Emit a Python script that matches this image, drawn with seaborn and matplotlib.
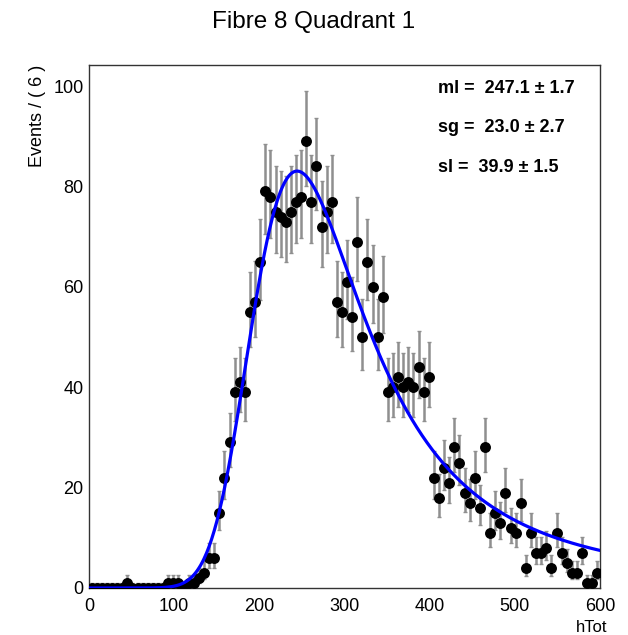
import numpy as np
import pandas as pd
import seaborn as sns
import matplotlib
matplotlib.use("Agg")
import matplotlib.pyplot as plt
from matplotlib.ticker import MultipleLocator

# binned data, 100 bins of width 6 over 0-600
bin_centers = np.arange(3, 600, 6)
counts = [
    0, 0, 0, 0, 0, 0, 0, 1, 0, 0, 0, 0, 0, 0, 0, 1, 1, 1,
    0, 1, 1, 2, 3, 6, 6, 15, 22, 29, 39, 41, 39, 55, 57, 65, 79,
    78, 75, 74, 73, 75, 77, 78, 89, 77, 84, 72, 75, 77,
    57, 55, 61, 54, 69, 50, 65, 60, 50, 58, 39, 40, 42, 40, 41, 40, 44, 39, 42,
    22, 18, 24, 21, 28, 25, 19, 17, 22, 16, 28, 11, 15, 13, 19, 12, 11, 17,
    4, 11, 7, 7, 8, 4, 11, 7, 5, 3, 3, 7, 1, 1, 3,
]

# fit result (landau x gauss)
par_names = ["ml", "sg", "sl"]
par_values = [247.1, 23.0, 39.9]
par_errors = [1.7, 2.7, 1.5]

df = pd.DataFrame({"x": bin_centers, "n": counts})
# approx poisson intervals like RooFit
df["lo"] = np.sqrt(df["n"] + 0.25) - 0.5
df["hi"] = np.sqrt(df["n"] + 0.25) + 0.5


def landau_std(lam):
    # inverse laplace form, integrated along the line through the saddle point
    y = np.linspace(0, 60, 12001)
    out = np.zeros(len(lam))
    for i, l in enumerate(lam):
        if l < -5:
            continue
        s = np.exp(-1 - l) + 1j * y
        f = s * np.log(s) + l * s
        out[i] = np.trapezoid(np.exp(f).real, y) / np.pi
    return out


ml, sg, sl = par_values
xs = np.arange(-150, 851, 1.0)
pdf = landau_std((xs - ml) / sl) / sl
u = np.arange(-150, 151, 1.0)
kern = np.exp(-0.5 * (u / sg) ** 2)
kern /= kern.sum()
conv = np.convolve(pdf, kern, mode="same")
m = (xs >= 0) & (xs <= 600)
area = np.trapezoid(conv[m], xs[m])
curve = pd.DataFrame({"x": xs[m], "y": conv[m] * df["n"].sum() * 6 / area})

sns.set_style("white")
plt.rcParams["font.family"] = ["Liberation Sans", "DejaVu Sans"]
plt.rcParams["text.color"] = "black"
plt.rcParams["xtick.color"] = "black"
plt.rcParams["ytick.color"] = "black"

fig = plt.figure(figsize=(6.28, 6.35), dpi=100)
ax = fig.add_axes([89 / 628, 1 - 588 / 635, 511 / 628, 523 / 635])

ax.errorbar(df["x"], df["n"], yerr=[df["lo"], df["hi"]], fmt="none",
            ecolor="#8f8f8f", elinewidth=1.8, capsize=1.5, capthick=1, zorder=2)
sns.scatterplot(data=df, x="x", y="n", color="black", s=62, linewidth=0,
                zorder=3, ax=ax)
sns.lineplot(data=curve, x="x", y="y", color="#0000ff", lw=2.3, zorder=4, ax=ax)

ax.set_xlim(0, 600)
ax.set_ylim(0, 104.2)
ax.xaxis.set_major_locator(MultipleLocator(100))
ax.xaxis.set_minor_locator(MultipleLocator(20))
ax.yaxis.set_major_locator(MultipleLocator(20))
ax.yaxis.set_minor_locator(MultipleLocator(5))
ax.tick_params(axis="x", which="major", direction="in", length=11, width=1,
               labelsize=13, pad=7, top=False)
ax.tick_params(axis="x", which="minor", direction="in", length=5, width=1, top=False)
ax.tick_params(axis="y", which="major", direction="in", length=8, width=1,
               labelsize=13, pad=4, right=False)
ax.tick_params(axis="y", which="minor", direction="in", length=5, width=1, right=False)
for sp in ax.spines.values():
    sp.set_color("#333333")
    sp.set_linewidth(1)
ax.set_xlabel("")
ax.set_ylabel("")

fig.text(0.5, 1 - 22 / 635, "Fibre 8 Quadrant 1", ha="center", va="center",
         fontsize=17.5)
fig.text(38 / 628, 1 - 65 / 635, "Events / ( 6 )", rotation=90, ha="center",
         va="top", fontsize=13)
fig.text(607 / 628, 1 - 628 / 635, "hTot", ha="right", va="center", fontsize=12)

baselines = [93, 132, 172]
for name, v, e, yb in zip(par_names, par_values, par_errors, baselines):
    ax.text(438 / 628, 1 - yb / 635, f"{name} =  {v:.1f} \u00b1 {e:.1f}",
            transform=fig.transFigure, ha="left", va="baseline",
            fontsize=13, fontweight="bold", zorder=2, clip_on=False)

fig.savefig("out.png", dpi=100)
